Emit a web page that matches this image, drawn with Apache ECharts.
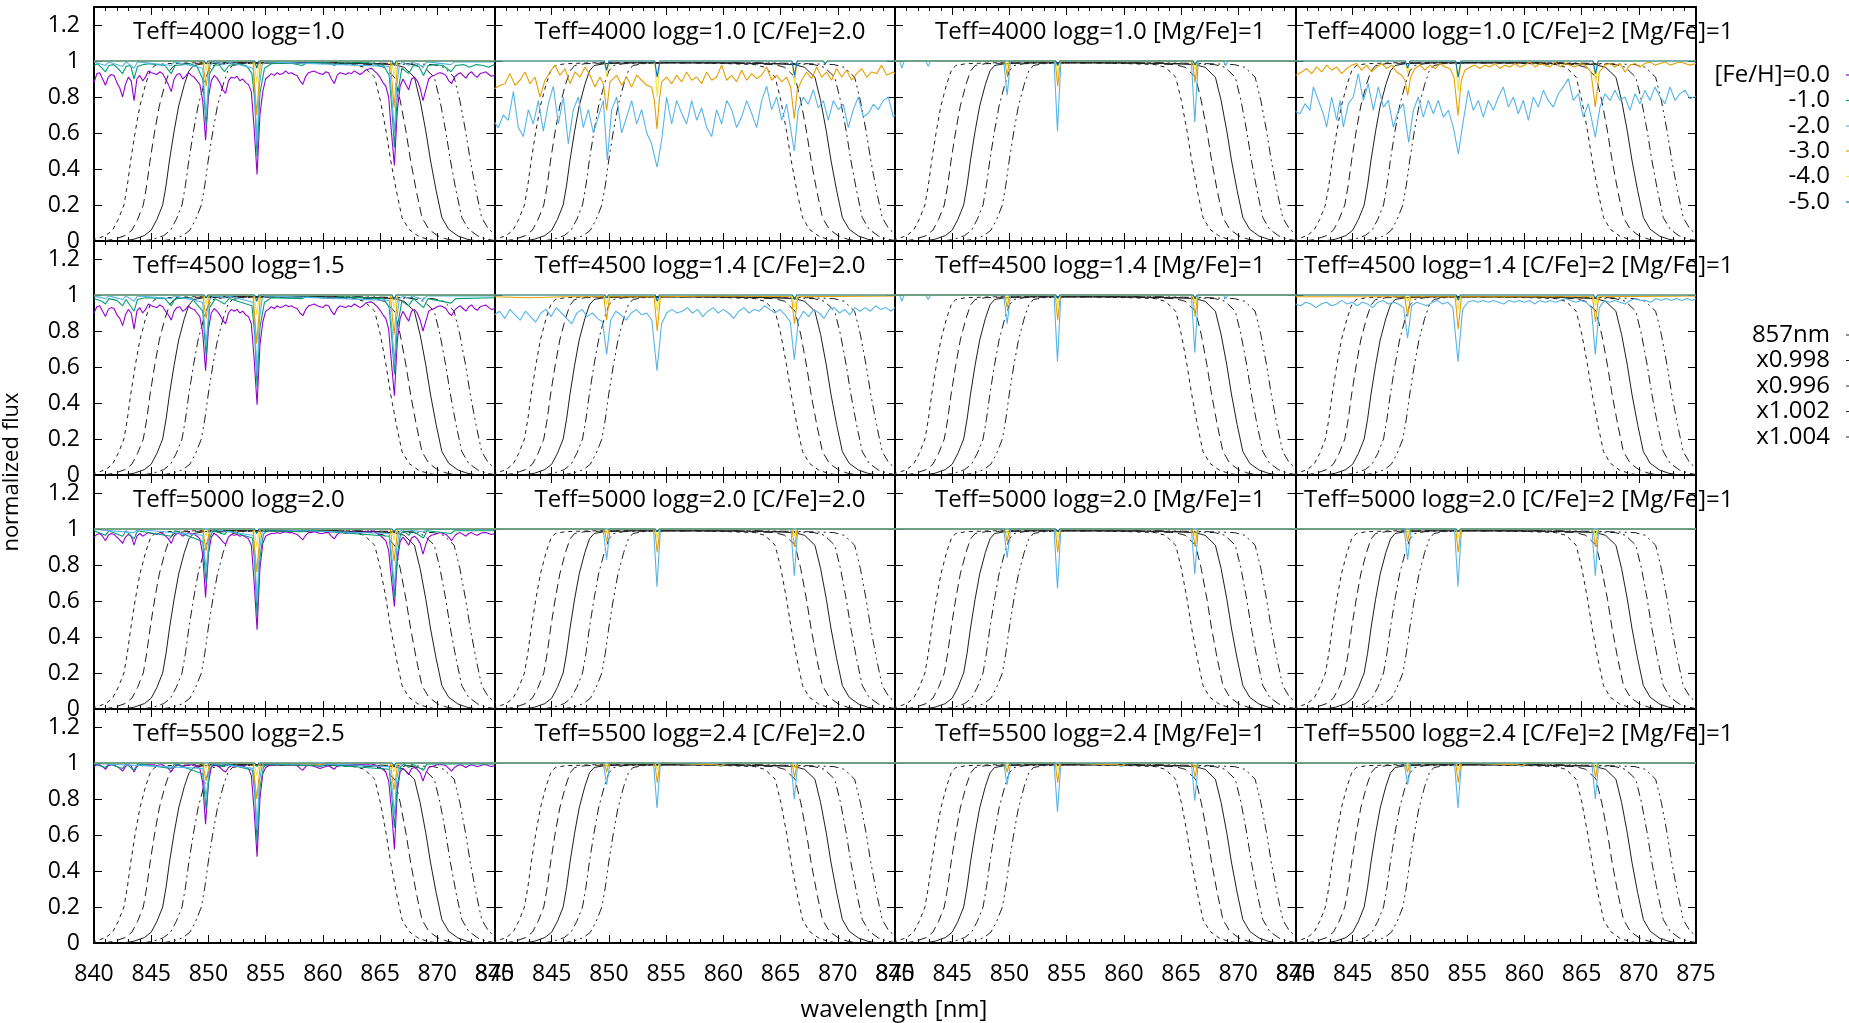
<!DOCTYPE html>
<html>
<head>
<meta charset="utf-8">
<title>Ca II triplet model spectra and 857 nm filter curves</title>
<script src="https://cdn.jsdelivr.net/npm/echarts@6/dist/echarts.min.js"></script>
<style>
html, body { margin: 0; padding: 0; background: #fff; }
#chart { width: 1849px; height: 1023px; }
</style>
</head>
<body>
<div id="chart"></div>
<script>
// ---------------- axes ----------------
const waveRange = [840, 875];
const waveStep = 5;
const fluxMax = 1.3;
const fluxStep = 0.2;

// ---------------- legend entries ----------------
const fehLabels = ['[Fe/H]=0.0', '-1.0', '-2.0', '-3.0', '-4.0', '-5.0'];
const filterLabels = ['857nm', 'x0.998', 'x0.996', 'x1.002', 'x1.004'];
const filterScales = [1.000, 0.998, 0.996, 1.002, 1.004];

// ---------------- panel titles (row by row) ----------------
const panelTitles = [
  'Teff=4000 logg=1.0', 'Teff=4000 logg=1.0 [C/Fe]=2.0', 'Teff=4000 logg=1.0 [Mg/Fe]=1', 'Teff=4000 logg=1.0 [C/Fe]=2 [Mg/Fe]=1',
  'Teff=4500 logg=1.5', 'Teff=4500 logg=1.4 [C/Fe]=2.0', 'Teff=4500 logg=1.4 [Mg/Fe]=1', 'Teff=4500 logg=1.4 [C/Fe]=2 [Mg/Fe]=1',
  'Teff=5000 logg=2.0', 'Teff=5000 logg=2.0 [C/Fe]=2.0', 'Teff=5000 logg=2.0 [Mg/Fe]=1', 'Teff=5000 logg=2.0 [C/Fe]=2 [Mg/Fe]=1',
  'Teff=5500 logg=2.5', 'Teff=5500 logg=2.4 [C/Fe]=2.0', 'Teff=5500 logg=2.4 [Mg/Fe]=1', 'Teff=5500 logg=2.4 [C/Fe]=2 [Mg/Fe]=1'
];

// ---------------- 857 nm filter transmission (wavelength nm, transmission) ----------------
const filterWave  = [842.5, 843.5, 844.4, 845.0, 845.5, 846.0, 846.3, 846.6, 847.0, 847.4, 847.9, 848.3, 848.7, 849.6, 852.0, 856.0, 860.0, 864.0, 866.2, 867.1, 868.0, 868.5, 869.0, 869.4, 869.9, 870.4, 871.0, 871.8, 872.6, 873.5];
const filterTrans = [0.0, 0.01, 0.03, 0.06, 0.12, 0.20, 0.31, 0.45, 0.61, 0.75, 0.87, 0.945, 0.975, 0.985, 0.99, 0.99, 0.99, 0.985, 0.98, 0.965, 0.91, 0.78, 0.61, 0.45, 0.28, 0.13, 0.065, 0.028, 0.01, 0.0];

// ---------------- solar-mix [Fe/H]=0.0 spectra: flux every 0.25 nm from 840 nm ----------------
const fluxGridStart = 840;
const fluxGridStep = 0.25;
const s4000_m0 = [
  0.88,0.93,0.935,0.90,0.865,0.91,0.925,0.92,0.88,0.85,0.80,0.87,0.91,0.89,0.78,0.90,0.92,0.89,0.91,0.945,
  0.935,0.93,0.925,0.94,0.93,0.90,0.87,0.83,0.90,0.925,0.93,0.90,0.915,0.935,0.92,0.91,0.89,0.87,0.78,0.56,
  0.80,0.89,0.92,0.905,0.88,0.84,0.82,0.89,0.91,0.905,0.915,0.89,0.90,0.88,0.87,0.83,0.62,0.37,0.70,0.83,
  0.90,0.915,0.93,0.92,0.935,0.925,0.93,0.945,0.93,0.935,0.925,0.92,0.89,0.87,0.915,0.935,0.94,0.945,0.935,0.93,
  0.925,0.94,0.935,0.90,0.875,0.92,0.935,0.93,0.925,0.935,0.93,0.945,0.935,0.925,0.935,0.95,0.955,0.96,0.945,0.93,
  0.91,0.88,0.86,0.80,0.60,0.42,0.72,0.86,0.90,0.87,0.84,0.90,0.91,0.89,0.85,0.78,0.84,0.90,0.915,0.92,
  0.93,0.935,0.93,0.92,0.89,0.875,0.91,0.925,0.935,0.92,0.905,0.93,0.94,0.92,0.91,0.93,0.935,0.94,0.925,0.915,0.92
];
const s4500_m0 = [
  0.90,0.935,0.94,0.91,0.88,0.92,0.93,0.925,0.89,0.87,0.83,0.89,0.92,0.90,0.81,0.91,0.93,0.90,0.92,0.95,
  0.94,0.935,0.93,0.945,0.935,0.91,0.89,0.86,0.91,0.93,0.935,0.91,0.92,0.94,0.925,0.92,0.90,0.88,0.79,0.58,
  0.81,0.90,0.925,0.91,0.89,0.86,0.84,0.90,0.92,0.91,0.92,0.90,0.91,0.89,0.88,0.84,0.64,0.39,0.72,0.85,
  0.91,0.92,0.935,0.925,0.94,0.93,0.935,0.945,0.935,0.94,0.93,0.925,0.90,0.885,0.92,0.94,0.945,0.95,0.94,0.935,
  0.93,0.945,0.94,0.91,0.89,0.925,0.94,0.935,0.93,0.94,0.935,0.95,0.94,0.93,0.94,0.955,0.96,0.962,0.95,0.935,
  0.915,0.89,0.87,0.81,0.62,0.44,0.74,0.87,0.91,0.88,0.855,0.91,0.92,0.90,0.86,0.80,0.855,0.91,0.92,0.925,
  0.935,0.94,0.935,0.925,0.90,0.885,0.915,0.93,0.94,0.925,0.91,0.935,0.945,0.925,0.915,0.935,0.94,0.945,0.93,0.92,0.925
];
const s5000_m0 = [
  0.955,0.97,0.975,0.96,0.935,0.965,0.975,0.97,0.955,0.94,0.92,0.955,0.97,0.96,0.91,0.96,0.975,0.96,0.97,0.98,
  0.975,0.975,0.97,0.98,0.975,0.96,0.945,0.92,0.96,0.975,0.975,0.96,0.97,0.98,0.975,0.97,0.96,0.945,0.86,0.62,
  0.86,0.955,0.975,0.965,0.95,0.93,0.915,0.955,0.97,0.965,0.97,0.96,0.965,0.955,0.945,0.91,0.70,0.44,0.78,0.92,
  0.96,0.97,0.975,0.975,0.98,0.975,0.98,0.985,0.98,0.98,0.975,0.97,0.955,0.94,0.965,0.98,0.98,0.985,0.98,0.975,
  0.975,0.98,0.98,0.96,0.945,0.97,0.98,0.98,0.975,0.98,0.98,0.985,0.98,0.975,0.98,0.985,0.985,0.99,0.985,0.975,
  0.965,0.95,0.935,0.88,0.72,0.57,0.82,0.93,0.955,0.935,0.91,0.95,0.96,0.945,0.92,0.86,0.915,0.955,0.965,0.97,
  0.975,0.98,0.975,0.97,0.955,0.935,0.96,0.975,0.98,0.97,0.96,0.975,0.98,0.97,0.965,0.975,0.98,0.98,0.975,0.97,0.975
];
const s5500_m0 = [
  0.98,0.99,0.99,0.98,0.965,0.985,0.99,0.99,0.98,0.97,0.955,0.98,0.99,0.985,0.95,0.98,0.99,0.985,0.99,0.99,
  0.99,0.99,0.985,0.99,0.99,0.98,0.97,0.95,0.98,0.99,0.99,0.98,0.985,0.99,0.99,0.985,0.98,0.97,0.89,0.66,
  0.89,0.975,0.99,0.985,0.975,0.96,0.95,0.975,0.985,0.985,0.985,0.98,0.985,0.975,0.97,0.93,0.73,0.48,0.80,0.94,
  0.975,0.985,0.99,0.99,0.99,0.99,0.99,0.995,0.99,0.99,0.99,0.985,0.97,0.96,0.98,0.99,0.985,0.98,0.975,0.97,
  0.975,0.98,0.985,0.975,0.965,0.985,0.99,0.99,0.99,0.99,0.99,0.995,0.99,0.99,0.99,0.995,0.995,0.995,0.99,0.985,
  0.975,0.965,0.95,0.90,0.74,0.52,0.84,0.95,0.97,0.955,0.935,0.97,0.975,0.965,0.945,0.90,0.945,0.975,0.98,0.985,
  0.99,0.99,0.99,0.985,0.97,0.955,0.975,0.985,0.99,0.985,0.975,0.985,0.99,0.985,0.98,0.985,0.99,0.99,0.985,0.98,0.985
];

// ---------------- other spectra: [wavelength nm, normalized flux] ----------------
const s4000_m1 = [[840,0.975],[840.3,0.985],[840.7,0.96],[841.0,0.94],[841.3,0.975],[841.7,0.98],[842.0,0.965],[842.5,0.93],[842.8,0.97],[843.2,0.975],[843.5,0.90],[843.8,0.97],[844.3,0.98],[844.8,0.985],[845.5,0.98],[846.2,0.975],[846.75,0.93],[847.1,0.975],[847.8,0.98],[848.4,0.985],[849.0,0.97],[849.5,0.90],[849.8,0.64],[850.1,0.93],[850.6,0.98],[851.0,0.975],[851.4,0.94],[851.8,0.975],[852.5,0.985],[853.3,0.975],[853.8,0.93],[854.05,0.78],[854.25,0.47],[854.5,0.82],[854.9,0.96],[855.5,0.985],[857.0,0.99],[858.2,0.975],[858.6,0.99],[860.5,0.99],[861.0,0.975],[861.4,0.99],[864.0,0.99],[865.3,0.975],[865.8,0.92],[866.05,0.72],[866.25,0.52],[866.5,0.80],[866.9,0.96],[867.5,0.93],[867.9,0.975],[868.4,0.97],[868.8,0.92],[869.2,0.975],[869.8,0.98],[870.5,0.975],[871.2,0.94],[871.6,0.975],[872.3,0.98],[872.8,0.965],[873.4,0.98],[874.0,0.975],[874.5,0.965],[875,0.98]];
const s4000_m2 = [[840,0.995],[841.0,0.975],[841.3,0.995],[842.5,0.97],[842.8,0.995],[843.5,0.96],[843.8,0.995],[846.75,0.975],[847.0,0.995],[849.5,0.96],[849.8,0.69],[850.1,0.97],[850.4,0.995],[851.4,0.98],[851.7,0.995],[853.9,0.96],[854.05,0.82],[854.25,0.53],[854.45,0.86],[854.7,0.98],[855.0,0.995],[865.8,0.97],[866.05,0.78],[866.25,0.60],[866.45,0.86],[866.7,0.98],[867.0,0.995],[867.5,0.975],[867.8,0.995],[868.8,0.97],[869.1,0.995],[871.2,0.98],[871.5,0.995],[875,0.995]];
const s4000_m3 = [[840,1],[849.5,1],[849.8,0.86],[850.1,1],[853.9,1],[854.22,0.70],[854.55,1],[865.9,1],[866.22,0.74],[866.55,1],[875,1]];
const s4000_m4 = [[840,1],[849.6,1],[849.8,0.95],[850.0,1],[854.0,1],[854.22,0.88],[854.45,1],[866.0,1],[866.22,0.92],[866.45,1],[875,1]];
const s4000_m5 = [[840,1],[849.65,1],[849.8,0.985],[849.95,1],[854.05,1],[854.22,0.96],[854.4,1],[866.05,1],[866.22,0.975],[866.4,1],[875,1]];

const s4000C_m2 = [[840,0.66],[840.33,0.63],[840.77,0.70],[841.21,0.67],[841.65,0.83],[842.08,0.63],[842.52,0.58],[842.96,0.73],[843.39,0.65],[843.83,0.78],[844.27,0.61],[844.7,0.76],[845.14,0.86],[845.58,0.65],[846.02,0.80],[846.45,0.54],[846.89,0.73],[847.33,0.80],[847.76,0.63],[848.2,0.73],[848.64,0.60],[849.07,0.69],[849.51,0.78],[849.86,0.45],[850.24,0.73],[850.68,0.80],[851.11,0.60],[851.55,0.69],[851.99,0.78],[852.42,0.65],[852.86,0.73],[853.3,0.60],[853.73,0.54],[854.2,0.41],[854.61,0.56],[855.04,0.80],[855.48,0.65],[855.92,0.78],[856.36,0.71],[856.79,0.65],[857.23,0.78],[857.67,0.67],[858.1,0.74],[858.54,0.63],[858.98,0.58],[859.41,0.73],[859.85,0.65],[860.29,0.78],[860.73,0.73],[861.16,0.63],[861.6,0.69],[862.04,0.78],[862.47,0.71],[862.91,0.63],[863.35,0.78],[863.78,0.86],[864.22,0.73],[864.66,0.80],[865.1,0.67],[865.53,0.76],[866.2,0.50],[866.55,0.73],[866.99,0.80],[867.42,0.76],[867.86,0.84],[868.3,0.74],[868.74,0.78],[869.17,0.67],[869.61,0.78],[870.05,0.73],[870.48,0.76],[870.92,0.63],[871.36,0.73],[871.79,0.80],[872.23,0.69],[872.67,0.71],[873.11,0.76],[873.54,0.73],[873.98,0.78],[874.42,0.80],[874.85,0.69],[875,0.70]];
const s4000C_m3 = [[840,0.846],[840.48,0.865],[840.92,0.874],[841.35,0.93],[841.79,0.865],[842.23,0.893],[842.67,0.939],[843.1,0.874],[843.54,0.911],[843.98,0.80],[844.41,0.893],[844.85,0.939],[845.29,0.977],[845.72,0.921],[846.16,0.958],[846.6,0.874],[847.03,0.939],[847.47,0.911],[847.91,0.967],[848.35,0.921],[848.78,0.856],[849.22,0.911],[849.51,0.874],[849.8,0.725],[850.09,0.884],[850.68,0.921],[851.11,0.865],[851.55,0.911],[851.99,0.856],[852.42,0.921],[852.86,0.893],[853.3,0.865],[853.73,0.856],[853.97,0.781],[854.2,0.623],[854.4,0.781],[854.61,0.884],[855.04,0.911],[855.48,0.874],[855.92,0.921],[856.36,0.884],[856.79,0.939],[857.23,0.893],[857.67,0.911],[858.1,0.874],[858.54,0.939],[858.98,0.893],[859.41,0.911],[859.85,0.977],[860.29,0.893],[860.73,0.921],[861.16,0.884],[861.6,0.949],[862.04,0.893],[862.47,0.93],[862.91,0.902],[863.35,0.921],[863.78,0.967],[864.22,0.893],[864.66,0.921],[865.1,0.884],[865.53,0.911],[865.88,0.856],[866.2,0.679],[866.46,0.837],[866.84,0.893],[867.28,0.939],[867.72,0.902],[868.15,0.967],[868.59,0.911],[869.03,0.939],[869.46,0.893],[869.9,0.958],[870.34,0.911],[870.78,0.949],[871.21,0.893],[871.65,0.93],[872.09,0.958],[872.52,0.911],[872.96,0.939],[873.4,0.93],[873.83,0.977],[874.27,0.921],[874.85,0.939],[875,0.93]];
const s4000C_m4 = [[840,1],[849.6,1],[849.8,0.91],[850.0,1],[854.0,1],[854.22,0.80],[854.45,1],[866.0,1],[866.22,0.87],[866.45,1],[875,1]];
const s4000C_m5 = [[840,1],[849.6,1],[849.8,0.95],[850.0,1],[854.0,1],[854.22,0.91],[854.45,1],[866.0,1],[866.22,0.92],[866.45,1],[868.7,1],[868.9,0.985],[869.1,1],[875,1]];

const s4000Mg_m2 = [[840,1],[840.4,1],[840.6,0.96],[840.8,1],[842.7,1],[842.9,0.97],[843.1,1],[849.5,1],[849.8,0.81],[850.1,1],[853.9,1],[854.2,0.61],[854.5,1],[865.9,1],[866.2,0.66],[866.5,1],[868.7,1],[868.9,0.975],[869.1,1],[875,1]];
const s4000Mg_m3 = [[840,1],[849.6,1],[849.8,0.92],[850.0,1],[854.0,1],[854.22,0.86],[854.45,1],[866.0,1],[866.22,0.88],[866.45,1],[875,1]];
const s4000Mg_m4 = [[840,1],[849.65,1],[849.8,0.97],[849.95,1],[854.05,1],[854.22,0.93],[854.4,1],[866.05,1],[866.22,0.95],[866.4,1],[875,1]];
const s4000Mg_m5 = [[840,1],[849.65,1],[849.8,0.99],[849.95,1],[854.05,1],[854.22,0.975],[854.4,1],[866.05,1],[866.22,0.98],[866.4,1],[875,1]];

const s4000CMg_m2 = [[840,0.72],[840.1,0.726],[840.39,0.707],[840.83,0.763],[841.27,0.726],[841.56,0.856],[842.0,0.781],[842.43,0.707],[842.72,0.632],[843.16,0.80],[843.6,0.67],[843.89,0.781],[844.18,0.632],[844.62,0.763],[845.05,0.80],[845.49,0.93],[845.93,0.781],[846.36,0.874],[846.8,0.726],[847.24,0.856],[847.68,0.744],[848.11,0.781],[848.55,0.632],[848.99,0.726],[849.42,0.763],[849.89,0.548],[850.3,0.726],[850.73,0.80],[851.17,0.688],[851.61,0.781],[852.04,0.707],[852.48,0.781],[852.92,0.688],[853.36,0.726],[853.79,0.632],[854.23,0.484],[854.67,0.67],[855.1,0.837],[855.54,0.726],[855.98,0.781],[856.41,0.688],[856.85,0.781],[857.29,0.726],[857.73,0.80],[858.16,0.856],[858.6,0.744],[859.04,0.80],[859.47,0.707],[859.91,0.781],[860.35,0.67],[860.78,0.80],[861.22,0.744],[861.66,0.837],[862.09,0.781],[862.53,0.744],[862.97,0.818],[863.4,0.856],[863.84,0.902],[864.28,0.781],[864.72,0.818],[865.15,0.688],[865.59,0.763],[866.2,0.577],[866.61,0.744],[867.05,0.818],[867.48,0.781],[867.92,0.837],[868.36,0.781],[868.79,0.80],[869.23,0.726],[869.67,0.818],[870.1,0.763],[870.54,0.837],[870.98,0.781],[871.42,0.856],[871.85,0.80],[872.29,0.763],[872.73,0.856],[873.16,0.781],[873.6,0.818],[874.04,0.837],[874.47,0.791],[874.82,0.80],[875,0.80]];
const s4000CMg_m3 = [[840,0.921],[840.54,0.939],[840.98,0.958],[841.41,0.93],[841.85,0.967],[842.29,0.939],[842.72,0.977],[843.16,0.949],[843.6,0.967],[844.03,0.93],[844.47,0.958],[844.91,0.977],[845.34,0.986],[845.78,0.949],[846.22,0.977],[846.66,0.939],[847.09,0.967],[847.53,0.986],[847.97,0.958],[848.4,0.977],[848.84,0.939],[849.28,0.921],[849.57,0.893],[849.8,0.809],[850.06,0.911],[850.44,0.958],[850.88,0.977],[851.32,0.949],[851.75,0.977],[852.19,0.958],[852.63,0.986],[853.06,0.967],[853.5,0.958],[853.85,0.911],[854.2,0.698],[854.49,0.893],[854.81,0.949],[855.25,0.967],[855.69,0.977],[856.12,0.958],[856.56,0.977],[857.0,0.967],[857.43,0.986],[857.87,0.958],[858.31,0.977],[858.74,0.967],[859.18,0.986],[859.62,0.967],[860.05,0.977],[860.49,0.995],[860.93,0.967],[861.37,0.986],[861.8,0.977],[862.24,0.967],[862.68,0.995],[863.11,0.967],[863.55,0.986],[863.99,0.977],[864.42,0.967],[864.86,0.986],[865.3,0.977],[865.82,0.939],[866.2,0.744],[866.55,0.939],[867.05,0.977],[867.48,0.986],[867.92,0.967],[868.36,0.986],[868.79,0.939],[869.23,0.977],[869.67,0.986],[870.1,0.967],[870.54,0.986],[870.98,0.995],[871.42,0.977],[871.85,0.986],[872.29,0.995],[872.73,0.977],[873.16,0.986],[873.6,0.995],[874.04,0.986],[874.47,0.977],[875,0.986]];
const s4000CMg_m4 = [[840,1],[849.6,1],[849.8,0.93],[850.0,1],[854.0,1],[854.22,0.83],[854.45,1],[866.0,1],[866.22,0.88],[866.45,1],[875,1]];
const s4000CMg_m5 = [[840,1],[849.6,1],[849.8,0.96],[850.0,1],[854.0,1],[854.22,0.91],[854.45,1],[866.0,1],[866.22,0.93],[866.45,1],[875,1]];

const s4500_m1 = [[840,0.98],[840.7,0.965],[841.0,0.95],[841.3,0.98],[842.0,0.97],[842.5,0.94],[842.8,0.975],[843.5,0.91],[843.8,0.975],[844.5,0.985],[846.2,0.98],[846.75,0.94],[847.1,0.98],[848.5,0.985],[849.5,0.91],[849.8,0.66],[850.1,0.93],[850.6,0.98],[851.4,0.95],[851.8,0.98],[853.8,0.94],[854.05,0.78],[854.25,0.49],[854.5,0.82],[854.9,0.96],[855.5,0.985],[858.2,0.98],[858.6,0.99],[861.0,0.98],[861.4,0.99],[865.3,0.98],[865.8,0.93],[866.05,0.74],[866.25,0.56],[866.5,0.82],[866.9,0.965],[867.5,0.94],[867.9,0.98],[868.8,0.93],[869.2,0.98],[871.2,0.955],[871.6,0.98],[875,0.985]];
const s4500_m2 = [[840,0.995],[841.0,0.98],[841.3,0.995],[842.5,0.975],[842.8,0.995],[843.5,0.965],[843.8,0.995],[846.75,0.98],[847.0,0.995],[849.5,0.96],[849.8,0.72],[850.1,0.97],[850.4,0.995],[851.4,0.985],[851.7,0.995],[853.9,0.96],[854.05,0.83],[854.25,0.55],[854.45,0.86],[854.7,0.98],[855.0,0.995],[865.8,0.97],[866.05,0.80],[866.25,0.62],[866.45,0.87],[866.7,0.98],[867.0,0.995],[867.5,0.98],[867.8,0.995],[868.8,0.975],[869.1,0.995],[875,0.995]];
const s4500_m3 = [[840,1],[849.5,1],[849.8,0.87],[850.1,1],[853.9,1],[854.22,0.73],[854.55,1],[865.9,1],[866.22,0.78],[866.55,1],[875,1]];
const s4500_m4 = [[840,1],[849.6,1],[849.8,0.95],[850.0,1],[854.0,1],[854.22,0.89],[854.45,1],[866.0,1],[866.22,0.93],[866.45,1],[875,1]];
const s4500_m5 = [[840,1],[849.65,1],[849.8,0.985],[849.95,1],[854.05,1],[854.22,0.965],[854.4,1],[866.05,1],[866.22,0.975],[866.4,1],[875,1]];

const s4500C_m2 = [[840,0.89],[840.45,0.91],[840.9,0.87],[841.35,0.92],[841.8,0.89],[842.25,0.86],[842.7,0.91],[843.15,0.88],[843.6,0.85],[844.05,0.90],[844.5,0.92],[844.95,0.88],[845.4,0.93],[845.85,0.90],[846.3,0.87],[846.75,0.84],[847.2,0.90],[847.65,0.92],[848.1,0.88],[848.55,0.90],[849.0,0.87],[849.45,0.85],[849.8,0.67],[850.15,0.86],[850.6,0.91],[851.05,0.89],[851.5,0.86],[851.95,0.90],[852.4,0.92],[852.85,0.89],[853.3,0.90],[853.75,0.86],[854.2,0.58],[854.6,0.84],[855.05,0.90],[855.5,0.92],[855.95,0.90],[856.4,0.91],[856.85,0.93],[857.3,0.90],[857.75,0.92],[858.2,0.88],[858.65,0.91],[859.1,0.93],[859.55,0.90],[860.0,0.92],[860.45,0.90],[860.9,0.87],[861.35,0.91],[861.8,0.93],[862.25,0.90],[862.7,0.92],[863.15,0.91],[863.6,0.94],[864.05,0.92],[864.5,0.90],[864.95,0.92],[865.4,0.89],[865.85,0.85],[866.2,0.64],[866.55,0.86],[867.0,0.91],[867.45,0.88],[867.9,0.92],[868.35,0.90],[868.8,0.87],[869.25,0.92],[869.7,0.93],[870.15,0.90],[870.6,0.92],[871.05,0.89],[871.5,0.93],[871.95,0.91],[872.4,0.93],[872.85,0.91],[873.3,0.94],[873.75,0.92],[874.2,0.93],[874.65,0.91],[875,0.93]];
const s4500C_m3 = [[840,0.99],[843,0.985],[846,0.99],[849.55,0.99],[849.8,0.86],[850.05,0.99],[853.95,0.99],[854.22,0.80],[854.5,0.99],[860,0.995],[865.95,0.99],[866.22,0.84],[866.5,0.99],[875,0.995]];
const s4500C_m4 = [[840,1],[849.6,1],[849.8,0.95],[850.0,1],[854.0,1],[854.22,0.91],[854.45,1],[866.0,1],[866.22,0.93],[866.45,1],[875,1]];
const s4500C_m5 = [[840,1],[849.65,1],[849.8,0.985],[849.95,1],[854.05,1],[854.22,0.965],[854.4,1],[866.05,1],[866.22,0.975],[866.4,1],[875,1]];

const s4500Mg_m2 = [[840,1],[840.4,1],[840.6,0.965],[840.8,1],[842.7,1],[842.9,0.975],[843.1,1],[849.5,1],[849.8,0.84],[850.1,1],[853.9,1],[854.2,0.63],[854.5,1],[865.9,1],[866.2,0.68],[866.5,1],[868.7,1],[868.9,0.98],[869.1,1],[875,1]];
const s4500Mg_m3 = [[840,1],[849.6,1],[849.8,0.93],[850.0,1],[854.0,1],[854.22,0.86],[854.45,1],[866.0,1],[866.22,0.88],[866.45,1],[875,1]];
const s4500Mg_m4 = [[840,1],[849.65,1],[849.8,0.97],[849.95,1],[854.05,1],[854.22,0.94],[854.4,1],[866.05,1],[866.22,0.95],[866.4,1],[875,1]];
const s4500Mg_m5 = [[840,1],[849.65,1],[849.8,0.99],[849.95,1],[854.05,1],[854.22,0.98],[854.4,1],[866.05,1],[866.22,0.985],[866.4,1],[875,1]];

const s4500CMg_m2 = [[840,0.95],[840.45,0.94],[840.9,0.96],[841.35,0.95],[841.8,0.93],[842.25,0.95],[842.7,0.96],[843.15,0.94],[843.6,0.95],[844.05,0.97],[844.5,0.95],[844.95,0.96],[845.4,0.94],[845.85,0.96],[846.3,0.95],[846.75,0.93],[847.2,0.96],[847.65,0.97],[848.1,0.95],[848.55,0.96],[849.0,0.95],[849.45,0.93],[849.8,0.76],[850.15,0.94],[850.6,0.96],[851.05,0.95],[851.5,0.94],[851.95,0.96],[852.4,0.97],[852.85,0.95],[853.3,0.96],[853.75,0.93],[854.2,0.63],[854.6,0.92],[855.05,0.96],[855.5,0.97],[855.95,0.96],[856.4,0.97],[856.85,0.96],[857.3,0.97],[857.75,0.96],[858.2,0.95],[858.65,0.97],[859.1,0.96],[859.55,0.97],[860.0,0.96],[860.45,0.97],[860.9,0.95],[861.35,0.97],[861.8,0.96],[862.25,0.97],[862.7,0.96],[863.15,0.97],[863.6,0.98],[864.05,0.97],[864.5,0.96],[864.95,0.97],[865.4,0.96],[865.85,0.93],[866.2,0.67],[866.55,0.93],[867.0,0.97],[867.45,0.96],[867.9,0.97],[868.35,0.96],[868.8,0.95],[869.25,0.97],[869.7,0.98],[870.15,0.97],[870.6,0.97],[871.05,0.96],[871.5,0.98],[871.95,0.97],[872.4,0.98],[872.85,0.97],[873.3,0.98],[873.75,0.97],[874.2,0.98],[874.65,0.97],[875,0.98]];
const s4500CMg_m3 = [[840,0.99],[849.55,0.99],[849.8,0.88],[850.05,0.99],[853.95,0.99],[854.22,0.81],[854.5,0.99],[865.95,0.99],[866.22,0.85],[866.5,0.99],[875,0.995]];
const s4500CMg_m4 = [[840,1],[849.6,1],[849.8,0.96],[850.0,1],[854.0,1],[854.22,0.92],[854.45,1],[866.0,1],[866.22,0.94],[866.45,1],[875,1]];
const s4500CMg_m5 = [[840,1],[849.65,1],[849.8,0.99],[849.95,1],[854.05,1],[854.22,0.97],[854.4,1],[866.05,1],[866.22,0.98],[866.4,1],[875,1]];

const s5000_m1 = [[840,0.99],[841.0,0.965],[841.3,0.99],[842.5,0.96],[842.8,0.99],[843.5,0.945],[843.8,0.99],[846.75,0.96],[847.05,0.99],[849.5,0.93],[849.8,0.70],[850.1,0.95],[850.4,0.99],[851.4,0.97],[851.7,0.99],[853.85,0.95],[854.05,0.80],[854.25,0.52],[854.5,0.84],[854.8,0.97],[855.1,0.99],[858.2,0.985],[858.5,0.995],[865.8,0.96],[866.05,0.78],[866.25,0.62],[866.5,0.85],[866.8,0.975],[867.1,0.99],[867.5,0.965],[867.8,0.99],[868.8,0.95],[869.1,0.99],[871.2,0.975],[871.5,0.99],[875,0.99]];
const s5000_m2 = [[840,0.997],[843.5,0.98],[843.8,0.997],[849.5,0.965],[849.8,0.77],[850.1,0.975],[850.4,0.997],[853.9,0.965],[854.05,0.85],[854.25,0.59],[854.45,0.88],[854.7,0.985],[855.0,0.997],[865.8,0.975],[866.05,0.83],[866.25,0.67],[866.45,0.89],[866.7,0.985],[867.0,0.997],[868.8,0.985],[869.1,0.997],[875,0.997]];
const s5000_m3 = [[840,1],[849.5,1],[849.8,0.88],[850.1,1],[853.9,1],[854.22,0.76],[854.55,1],[865.9,1],[866.22,0.82],[866.55,1],[875,1]];
const s5000_m4 = [[840,1],[849.6,1],[849.8,0.96],[850.0,1],[854.0,1],[854.22,0.90],[854.45,1],[866.0,1],[866.22,0.94],[866.45,1],[875,1]];
const s5000_m5 = [[840,1],[849.65,1],[849.8,0.99],[849.95,1],[854.05,1],[854.22,0.975],[854.4,1],[866.05,1],[866.22,0.985],[866.4,1],[875,1]];

const s5000C_m2 = [[840,1],[849.5,1],[849.8,0.83],[850.1,1],[853.9,1],[854.2,0.68],[854.5,1],[865.9,1],[866.2,0.74],[866.5,1],[875,1]];
const s5000C_m3 = [[840,1],[849.6,1],[849.8,0.93],[850.0,1],[854.0,1],[854.22,0.87],[854.45,1],[866.0,1],[866.22,0.90],[866.45,1],[875,1]];
const s5000C_m4 = [[840,1],[849.65,1],[849.8,0.975],[849.95,1],[854.05,1],[854.22,0.95],[854.4,1],[866.05,1],[866.22,0.96],[866.4,1],[875,1]];
const s5000C_m5 = [[840,1],[849.65,1],[849.8,0.995],[849.95,1],[854.05,1],[854.22,0.985],[854.4,1],[866.05,1],[866.22,0.99],[866.4,1],[875,1]];

const s5000Mg_m2 = [[840,1],[849.5,1],[849.8,0.84],[850.1,1],[853.9,1],[854.2,0.67],[854.5,1],[865.9,1],[866.2,0.75],[866.5,1],[875,1]];
const s5000Mg_m3 = [[840,1],[849.6,1],[849.8,0.93],[850.0,1],[854.0,1],[854.22,0.87],[854.45,1],[866.0,1],[866.22,0.90],[866.45,1],[875,1]];

const s5500_m1 = [[840,0.995],[841.0,0.975],[841.3,0.995],[842.5,0.97],[842.8,0.995],[843.5,0.96],[843.8,0.995],[846.75,0.97],[847.05,0.995],[849.5,0.94],[849.8,0.74],[850.1,0.96],[850.4,0.995],[851.4,0.98],[851.7,0.995],[853.85,0.96],[854.05,0.83],[854.25,0.56],[854.5,0.86],[854.8,0.975],[855.1,0.995],[859.3,0.985],[859.8,0.98],[860.3,0.99],[865.8,0.965],[866.05,0.80],[866.25,0.64],[866.5,0.87],[866.8,0.98],[867.1,0.995],[867.5,0.975],[867.8,0.995],[868.8,0.96],[869.1,0.995],[875,0.995]];
const s5500_m2 = [[840,0.997],[849.5,0.97],[849.8,0.81],[850.1,0.98],[850.4,0.997],[853.9,0.97],[854.05,0.87],[854.25,0.63],[854.45,0.90],[854.7,0.99],[855.0,0.997],[859.3,0.99],[859.8,0.985],[860.3,0.995],[865.8,0.98],[866.05,0.86],[866.25,0.71],[866.45,0.91],[866.7,0.99],[867.0,0.997],[875,0.997]];
const s5500_m3 = [[840,1],[849.5,1],[849.8,0.90],[850.1,1],[853.9,1],[854.22,0.80],[854.55,1],[859.4,0.995],[859.8,0.99],[860.2,1],[865.9,1],[866.22,0.85],[866.55,1],[875,1]];
const s5500_m4 = [[840,1],[849.6,1],[849.8,0.97],[850.0,1],[854.0,1],[854.22,0.93],[854.45,1],[866.0,1],[866.22,0.95],[866.45,1],[875,1]];
const s5500_m5 = [[840,1],[849.65,1],[849.8,0.99],[849.95,1],[854.05,1],[854.22,0.98],[854.4,1],[866.05,1],[866.22,0.985],[866.4,1],[875,1]];

const s5500C_m2 = [[840,1],[849.5,1],[849.8,0.88],[850.1,1],[853.9,1],[854.2,0.75],[854.5,1],[859.3,0.99],[859.8,0.98],[860.3,1],[865.9,1],[866.2,0.80],[866.5,1],[875,1]];
const s5500C_m3 = [[840,1],[849.6,1],[849.8,0.95],[850.0,1],[854.0,1],[854.22,0.89],[854.45,1],[859.4,0.99],[859.8,0.985],[860.2,1],[866.0,1],[866.22,0.92],[866.45,1],[875,1]];
const s5500C_m4 = [[840,1],[849.65,1],[849.8,0.98],[849.95,1],[854.05,1],[854.22,0.96],[854.4,1],[866.05,1],[866.22,0.97],[866.4,1],[875,1]];
const s5500C_m5 = [[840,1],[849.65,1],[849.8,0.995],[849.95,1],[854.05,1],[854.22,0.99],[854.4,1],[866.05,1],[866.22,0.99],[866.4,1],[875,1]];
const s5500Mg_m2 = [[840,1],[849.5,1],[849.8,0.88],[850.1,1],[853.9,1],[854.2,0.73],[854.5,1],[859.3,0.99],[859.8,0.98],[860.3,1],[865.9,1],[866.2,0.79],[866.5,1],[875,1]];

// ---------------- which spectra go in which panel: [metallicity index, data] ----------------
const gridded = v => v.map((f, i) => [fluxGridStart + i * fluxGridStep, f]);
const panelCurves = [
  [[0, gridded(s4000_m0)], [1, s4000_m1], [2, s4000_m2], [3, s4000_m3], [4, s4000_m4], [5, s4000_m5]],
  [[2, s4000C_m2], [3, s4000C_m3], [4, s4000C_m4], [5, s4000C_m5]],
  [[2, s4000Mg_m2], [3, s4000Mg_m3], [4, s4000Mg_m4], [5, s4000Mg_m5]],
  [[2, s4000CMg_m2], [3, s4000CMg_m3], [4, s4000CMg_m4], [5, s4000CMg_m5]],

  [[0, gridded(s4500_m0)], [1, s4500_m1], [2, s4500_m2], [3, s4500_m3], [4, s4500_m4], [5, s4500_m5]],
  [[2, s4500C_m2], [3, s4500C_m3], [4, s4500C_m4], [5, s4500C_m5]],
  [[2, s4500Mg_m2], [3, s4500Mg_m3], [4, s4500Mg_m4], [5, s4500Mg_m5]],
  [[2, s4500CMg_m2], [3, s4500CMg_m3], [4, s4500CMg_m4], [5, s4500CMg_m5]],

  [[0, gridded(s5000_m0)], [1, s5000_m1], [2, s5000_m2], [3, s5000_m3], [4, s5000_m4], [5, s5000_m5]],
  [[2, s5000C_m2], [3, s5000C_m3], [4, s5000C_m4], [5, s5000C_m5]],
  [[2, s5000Mg_m2], [3, s5000Mg_m3], [4, s5000C_m4], [5, s5000C_m5]],
  [[2, s5000C_m2], [3, s5000C_m3], [4, s5000C_m4], [5, s5000C_m5]],

  [[0, gridded(s5500_m0)], [1, s5500_m1], [2, s5500_m2], [3, s5500_m3], [4, s5500_m4], [5, s5500_m5]],
  [[2, s5500C_m2], [3, s5500C_m3], [4, s5500C_m4], [5, s5500C_m5]],
  [[2, s5500Mg_m2], [3, s5500C_m3], [4, s5500C_m4], [5, s5500C_m5]],
  [[2, s5500C_m2], [3, s5500C_m3], [4, s5500C_m4], [5, s5500C_m5]]
];

// ---------------- styling ----------------
const FONT = '"Open Sans", "Noto Sans", sans-serif';
const fehColors = ['#9400d3', '#009e73', '#56b4e9', '#e69f00', '#f0e442', '#0072b2'];
const filterDash = ['solid', [9, 5], [4, 4], [9, 4, 2, 4], [9, 4, 2, 4, 2, 4]];
const filterColor = '#1e1e1e';
const layout = { left: 94, top: 7, width: 400.5, height: 234, cols: 4 };
const titleOffset = [39, 40, 40, 8.5];

const grids = [], xAxes = [], yAxes = [], series = [], graphics = [];

panelCurves.forEach((curves, k) => {
  const r = Math.floor(k / layout.cols), c = k % layout.cols;
  const left = layout.left + c * layout.width;
  const top = layout.top + r * layout.height;
  grids.push({ left, top, width: layout.width, height: layout.height, containLabel: false, outerBoundsMode: 'none' });

  const axisLine = { show: true, onZero: false, lineStyle: { color: '#000', width: 2 } };
  const xCommon = {
    type: 'value', gridIndex: k, min: waveRange[0], max: waveRange[1], interval: waveStep,
    axisLine, splitLine: { show: false },
    axisTick: { show: true, inside: true, length: 8, lineStyle: { color: '#000', width: 1 } },
    minorTick: { show: true, splitNumber: 5, length: 4, lineStyle: { color: '#000', width: 1 } },
    minorSplitLine: { show: false }
  };
  xAxes.push(Object.assign({}, xCommon, {
    position: 'bottom',
    axisLabel: { show: r === 3, color: '#000', fontSize: 23, fontFamily: FONT, margin: 20 }
  }));
  xAxes.push(Object.assign({}, xCommon, { position: 'top', axisLabel: { show: false } }));

  const yCommon = {
    type: 'value', gridIndex: k, min: 0, max: fluxMax, interval: fluxStep,
    axisLine, splitLine: { show: false },
    axisTick: { show: true, inside: true, length: 8, lineStyle: { color: '#000', width: 1 } }
  };
  yAxes.push(Object.assign({}, yCommon, {
    position: 'left',
    axisLabel: { show: c === 0, showMaxLabel: false, color: '#000', fontSize: 23, fontFamily: FONT, margin: 14 }
  }));
  yAxes.push(Object.assign({}, yCommon, { position: 'right', axisLabel: { show: false } }));

  // filter transmission curves
  filterScales.forEach((s, j) => {
    series.push({
      name: filterLabels[j], type: 'line', xAxisIndex: 2 * k, yAxisIndex: 2 * k,
      data: filterWave.map((w, i) => [w * s, filterTrans[i]]),
      showSymbol: false, symbol: 'none', silent: true, clip: true,
      lineStyle: { color: filterColor, width: 1, type: filterDash[j] }
    });
  });
  // model spectra
  curves.forEach(([m, data]) => {
    series.push({
      name: fehLabels[m], type: 'line', xAxisIndex: 2 * k, yAxisIndex: 2 * k,
      data, showSymbol: false, symbol: 'none', silent: true, clip: true,
      lineStyle: { color: fehColors[m], width: 1.1 }
    });
  });

  graphics.push({
    type: 'text', z: 100, x: left + titleOffset[c], y: top + 25,
    style: { text: panelTitles[k], font: '24px ' + FONT, fill: '#000', textAlign: 'left', textVerticalAlign: 'middle', align: 'left', verticalAlign: 'middle' }
  });
});

// axis titles
graphics.push({
  type: 'text', z: 100, x: 12, y: 472, rotation: Math.PI / 2,
  style: { text: 'normalized flux', font: '22px ' + FONT, fill: '#000', textAlign: 'center', textVerticalAlign: 'middle', align: 'center', verticalAlign: 'middle' }
});
graphics.push({
  type: 'text', z: 100, x: 894, y: 1010,
  style: { text: 'wavelength [nm]', font: '24px ' + FONT, fill: '#000', textAlign: 'center', textVerticalAlign: 'middle', align: 'center', verticalAlign: 'middle' }
});

// key: metallicities, then filters
const keyRight = 1830, keyLine = [1846, 1862];
const fehKeyY = [75, 100.5, 126, 151, 176.5, 202];
const filterKeyY = [335, 360.5, 386, 411.5, 437];
fehLabels.forEach((t, m) => {
  graphics.push({ type: 'text', z: 100, x: keyRight, y: fehKeyY[m],
    style: { text: t, font: '24px ' + FONT, fill: '#000', textAlign: 'right', textVerticalAlign: 'middle', align: 'right', verticalAlign: 'middle' } });
  graphics.push({ type: 'line', z: 100, shape: { x1: keyLine[0], y1: fehKeyY[m], x2: keyLine[1], y2: fehKeyY[m] },
    style: { stroke: fehColors[m], lineWidth: 1.2 } });
});
filterLabels.forEach((t, j) => {
  graphics.push({ type: 'text', z: 100, x: keyRight, y: filterKeyY[j],
    style: { text: t, font: '24px ' + FONT, fill: '#000', textAlign: 'right', textVerticalAlign: 'middle', align: 'right', verticalAlign: 'middle' } });
  graphics.push({ type: 'line', z: 100, shape: { x1: keyLine[0], y1: filterKeyY[j], x2: keyLine[1], y2: filterKeyY[j] },
    style: { stroke: filterColor, lineWidth: 1 } });
});

const chart = echarts.init(document.getElementById('chart'), null, { renderer: 'canvas' });
chart.setOption({
  backgroundColor: '#fff',
  animation: false,
  textStyle: { fontFamily: FONT },
  grid: grids,
  xAxis: xAxes,
  yAxis: yAxes,
  series,
  graphic: graphics
});
</script>
</body>
</html>
